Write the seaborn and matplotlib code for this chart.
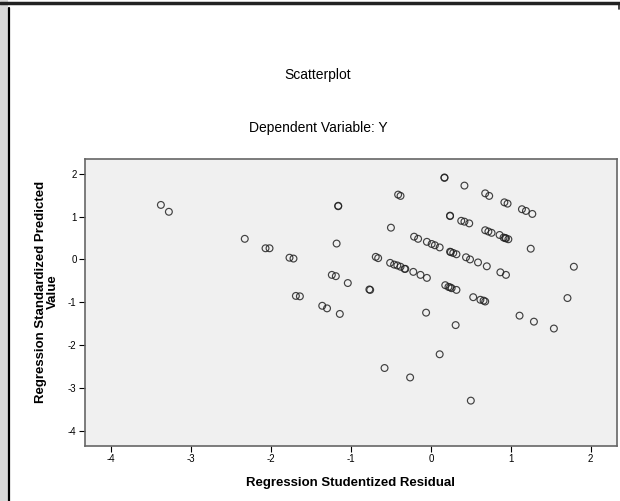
import matplotlib
matplotlib.use("Agg")
import matplotlib.pyplot as plt
import matplotlib.patches as mpatches
import matplotlib.lines as mlines
import pandas as pd
import seaborn as sns

# ---------- data ----------
studentized_resid = [
    -3.38, -3.28, -2.33, -2.07, -2.02, -1.77, -1.72, -1.69, -1.64, -1.36,
    -1.30, -1.14, -1.16, -1.16, -1.18, -1.24, -1.19, -1.04, -0.77, -0.76,
    -0.69, -0.66, -0.50, -0.41, -0.38,
    -0.51, -0.46, -0.42, -0.38, -0.33, -0.32, -0.22, -0.13, -0.05,
    -0.21, -0.16, -0.05, 0.01, 0.05, 0.11,
    0.24, 0.25, 0.28, 0.32, 0.44, 0.49, 0.59, 0.70, 0.87, 0.94,
    0.18, 0.22, 0.24, 0.26, 0.32, 0.53, 0.62, 0.66, 0.68,
    -0.06, 0.31, 0.11, -0.58, -0.26, 0.50, 1.11, 1.29, 1.54, 1.79,
    1.71, 1.25,
    0.17, 0.17, 0.42, 0.68, 0.73, 0.92, 0.96, 1.14, 1.19, 1.27,
    0.24, 0.24, 0.38, 0.42, 0.48, 0.68, 0.72, 0.76, 0.86, 0.91,
    0.93, 0.94, 0.97,
]
standardized_pred = [
    1.27, 1.11, 0.48, 0.26, 0.26, 0.04, 0.02, -0.85, -0.86, -1.08,
    -1.14, -1.27, 1.24, 1.25, 0.37, -0.36, -0.39, -0.55, -0.70, -0.71,
    0.06, 0.03, 0.74, 1.51, 1.48,
    -0.08, -0.12, -0.14, -0.17, -0.22, -0.22, -0.29, -0.36, -0.43,
    0.53, 0.48, 0.41, 0.36, 0.33, 0.28,
    0.18, 0.17, 0.15, 0.12, 0.05, 0.00, -0.07, -0.16, -0.30, -0.36,
    -0.60, -0.64, -0.65, -0.67, -0.71, -0.88, -0.94, -0.96, -0.98,
    -1.24, -1.53, -2.21, -2.53, -2.75, -3.29, -1.31, -1.45, -1.61, -0.17,
    -0.90, 0.25,
    1.90, 1.91, 1.72, 1.54, 1.48, 1.33, 1.30, 1.17, 1.13, 1.06,
    1.02, 1.01, 0.90, 0.88, 0.84, 0.68, 0.65, 0.62, 0.57, 0.51,
    0.50, 0.49, 0.47,
]
x_ticks = [-4, -3, -2, -1, 0, 1, 2]
y_ticks = [-4, -3, -2, -1, 0, 1, 2]

df = pd.DataFrame({"resid": studentized_resid, "pred": standardized_pred})

# ---------- style ----------
sns.set_theme(style="ticks")
plt.rcParams["font.family"] = ["Liberation Sans", "DejaVu Sans"]
plt.rcParams["text.color"] = "black"

fig = plt.figure(figsize=(6.2, 5.01), dpi=100)
ax = fig.add_axes([85 / 620, 55.3 / 501, 532 / 620, 286.7 / 501])
ax.set_facecolor("#f0f0f0")

sns.scatterplot(data=df, x="resid", y="pred", ax=ax, s=24,
                facecolor="none", edgecolor="#222222", linewidth=0.85,
                alpha=0.85, legend=False)

ax.set_xlim(-4.33, 2.33)
ax.set_ylim(-4.34, 2.34)
ax.set_xticks(x_ticks)
ax.set_yticks(y_ticks)
ax.set_xticklabels([str(t) for t in x_ticks])
ax.set_yticklabels([str(t) for t in y_ticks])
ax.tick_params(axis="both", direction="out", length=4, width=0.8,
               color="black", labelcolor="black", labelsize=7, pad=2)
ax.tick_params(top=False, right=False)
for sp in ax.spines.values():
    sp.set_visible(True)
    sp.set_color("#666666")
    sp.set_linewidth(1.2)

ax.set_xlabel("")
ax.set_ylabel("")

# titles and axis labels (SPSS places these relative to the chart frame)
fig.text(318 / 620, 1 - 75 / 501, "Scatterplot", ha="center", va="center",
         fontsize=10)
fig.text(318 / 620, 1 - 128 / 501, "Dependent Variable: Y", ha="center",
         va="center", fontsize=10)
fig.text(351 / 620, 1 - 483 / 501, "Regression Studentized Residual",
         ha="center", va="center", fontsize=9.5, fontweight="bold")
fig.text(47 / 620, 1 - 292 / 501, "Regression Standardized Predicted\nValue",
         ha="center", va="center", rotation=90, fontsize=9.5,
         fontweight="bold", linespacing=1.0)

# output-window frame around the chart
fig.patches.append(mpatches.Rectangle((0, 0), 8 / 620, 1, transform=fig.transFigure,
                                      facecolor="#d9d9d9", edgecolor="none"))
fig.lines.append(mlines.Line2D([9 / 620, 9 / 620], [0, 1 - 8 / 501],
                               transform=fig.transFigure, color="black", lw=1.6))
fig.lines.append(mlines.Line2D([0, 1], [1 - 3 / 501, 1 - 3 / 501],
                               transform=fig.transFigure, color="#222222", lw=2.5))
fig.lines.append(mlines.Line2D([619 / 620, 619 / 620], [1 - 3 / 501, 1 - 9 / 501],
                               transform=fig.transFigure, color="#222222", lw=1.2))

fig.savefig("out.png", dpi=100)
plt.close(fig)
